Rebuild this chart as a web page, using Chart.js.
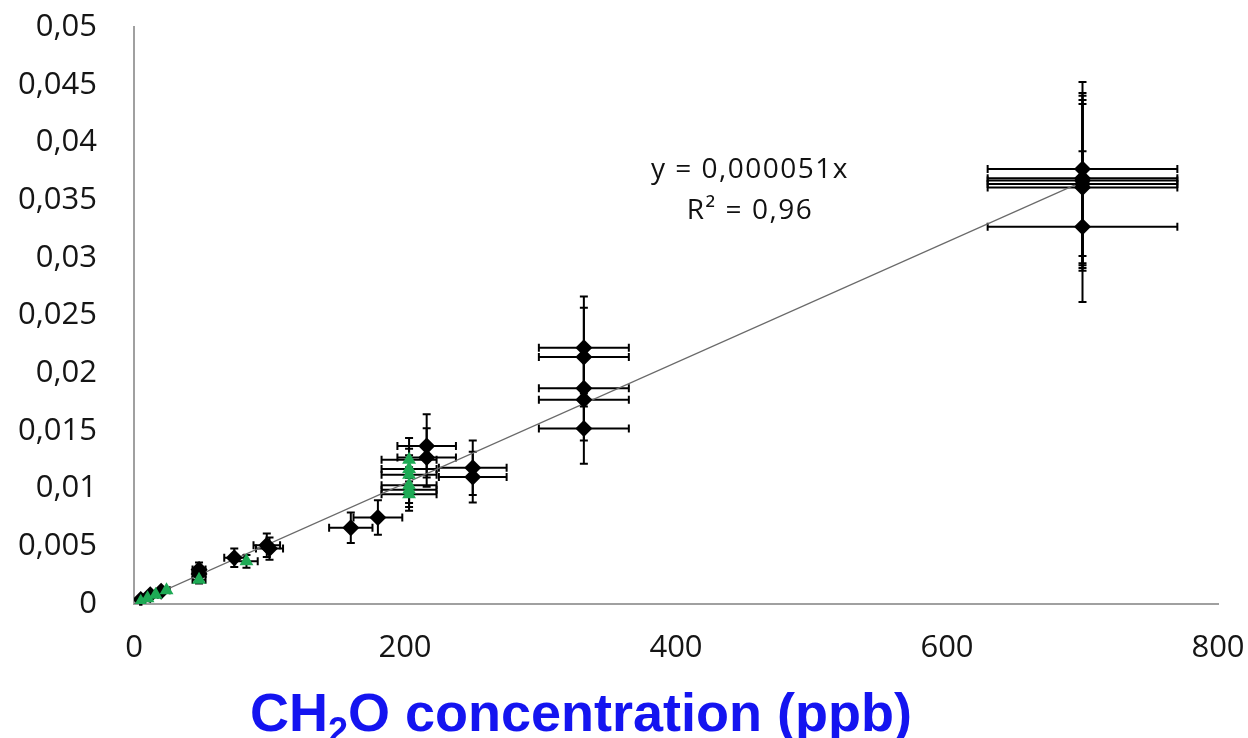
<!DOCTYPE html>
<html>
<head>
<meta charset="utf-8">
<script src="https://cdn.jsdelivr.net/npm/chart.js@4.4.0/dist/chart.umd.min.js"></script>
<style>
  html, body { margin: 0; padding: 0; background: #fff; }
  canvas { display: block; }
</style>
</head>
<body>
<canvas id="calibChart" width="1248" height="738"></canvas>
<script>
// values
const blackX = [5, 12, 20, 48, 48, 74, 98, 100, 160, 180, 216, 216, 250, 250,
                332, 332, 332, 332, 332, 700, 700, 700, 700, 700, 700]
const blackY = [0.0004, 0.0008, 0.0011, 0.0030, 0.0026, 0.0040, 0.0051, 0.0048, 0.0066, 0.0075, 0.0137, 0.0127, 0.0118, 0.0110,
                0.0222, 0.0214, 0.0187, 0.0177, 0.0152, 0.0377, 0.0369, 0.0367, 0.0364, 0.0361, 0.0327]
const greenX = [5, 10, 16, 24, 48, 83, 203, 203, 203, 203, 203, 203]
const greenY = [0.0002, 0.0005, 0.0008, 0.0012, 0.0021, 0.0037, 0.0125, 0.0117, 0.0112, 0.0103, 0.0099, 0.0095]
const trendX = [0, 700]
const trendY = [0, 0.0366]
const xTicks = [0, 200, 400, 600, 800]
const yTicks = [0, 0.005, 0.01, 0.015, 0.02, 0.025, 0.03, 0.035, 0.04, 0.045, 0.05]
// error bars are relative (fraction of the value)
const blackErr = { x: 0.10, y: 0.20 }
const greenErr = { x: 0.10, y: 0.15 }

const toPoints = (xs, ys) => xs.map((v, i) => ({ x: v, y: ys[i] }))

const errorBars = {
  id: 'errorBars',
  beforeDatasetsDraw(chart) {
    const { ctx, scales: { x, y } } = chart
    ctx.save()
    ctx.strokeStyle = '#000'
    ctx.lineWidth = 2
    const cap = 4
    chart.data.datasets.forEach(ds => {
      if (!ds.err) return
      ds.data.forEach(p => {
        const px = x.getPixelForValue(p.x)
        const py = y.getPixelForValue(p.y)
        const x0 = x.getPixelForValue(p.x * (1 - ds.err.x))
        const x1 = x.getPixelForValue(p.x * (1 + ds.err.x))
        const y0 = y.getPixelForValue(p.y * (1 - ds.err.y))
        const y1 = y.getPixelForValue(p.y * (1 + ds.err.y))
        ctx.beginPath()
        ctx.moveTo(x0, py); ctx.lineTo(x1, py)
        ctx.moveTo(x0, py - cap); ctx.lineTo(x0, py + cap)
        ctx.moveTo(x1, py - cap); ctx.lineTo(x1, py + cap)
        ctx.moveTo(px, y0); ctx.lineTo(px, y1)
        ctx.moveTo(px - cap, y0); ctx.lineTo(px + cap, y0)
        ctx.moveTo(px - cap, y1); ctx.lineTo(px + cap, y1)
        ctx.stroke()
      })
    })
    ctx.restore()
  }
}

const labels = {
  id: 'labels',
  afterDraw(chart) {
    const ctx = chart.ctx
    ctx.save()
    // regression text
    ctx.fillStyle = '#111'
    ctx.font = '28px "Open Sans"'
    ctx.letterSpacing = '1.5px'
    ctx.textAlign = 'center'
    ctx.textBaseline = 'alphabetic'
    ctx.fillText('y = 0,000051x', 750, 178)
    ctx.fillText('R² = 0,96', 750, 219)
    ctx.letterSpacing = '0px'

    // axis title with subscript
    ctx.fillStyle = '#1414f0'
    ctx.textAlign = 'left'
    let cx = 250
    const base = 731
    ctx.font = 'bold 54px "Liberation Sans"'
    ctx.fillText('CH', cx, base)
    cx += ctx.measureText('CH').width
    ctx.font = 'bold 36px "Liberation Sans"'
    ctx.fillText('2', cx, base + 12)
    cx += ctx.measureText('2').width
    ctx.font = 'bold 54px "Liberation Sans"'
    ctx.fillText('O concentration (ppb)', cx, base)
    ctx.restore()
  }
}

Chart.register(errorBars, labels)

const tickFont = { family: 'Open Sans', size: 31 }

new Chart(document.getElementById('calibChart').getContext('2d'), {
  type: 'scatter',
  data: {
    datasets: [
      {
        label: 'green',
        data: toPoints(greenX, greenY),
        err: greenErr,
        pointStyle: 'triangle',
        pointRadius: 8,
        backgroundColor: '#1eaa55',
        borderWidth: 0,
        order: 1,
      },
      {
        label: 'black',
        data: toPoints(blackX, blackY),
        err: blackErr,
        pointStyle: 'rectRot',
        pointRadius: 8.5,
        backgroundColor: '#000',
        borderWidth: 0,
        order: 2,
      },
      {
        label: 'trend',
        type: 'line',
        data: toPoints(trendX, trendY),
        borderColor: '#6a6a6a',
        borderWidth: 1.2,
        pointRadius: 0,
        fill: false,
        order: 3,
      },
    ]
  },
  options: {
    responsive: false,
    animation: false,
    layout: { padding: { top: 27, right: 30, left: 0, bottom: 0 } },
    plugins: {
      legend: { display: false },
      tooltip: { enabled: false },
    },
    scales: {
      x: {
        type: 'linear',
        min: 0,
        max: 800,
        afterBuildTicks: scale => { scale.ticks = xTicks.map(v => ({ value: v })) },
        afterFit: scale => {
          scale.height = 134
          scale.paddingLeft = 0
          scale.paddingRight = 0
        },
        grid: { display: false, drawTicks: false },
        border: { display: true, color: '#a0a0a0', width: 2 },
        ticks: { font: tickFont, color: '#151515', padding: 26, maxRotation: 0 },
      },
      y: {
        min: 0,
        max: 0.05,
        afterBuildTicks: scale => { scale.ticks = yTicks.map(v => ({ value: v })) },
        afterFit: scale => {
          scale.width = 134
          scale.paddingTop = 0
          scale.paddingBottom = 0
        },
        grid: { display: false, drawTicks: false },
        border: { display: true, color: '#a0a0a0', width: 2 },
        ticks: {
          font: tickFont,
          color: '#151515',
          padding: 37,
          callback: v => Number(v.toFixed(3)).toString().replace('.', ','),
        },
      },
    }
  }
})
</script>
</body>
</html>
